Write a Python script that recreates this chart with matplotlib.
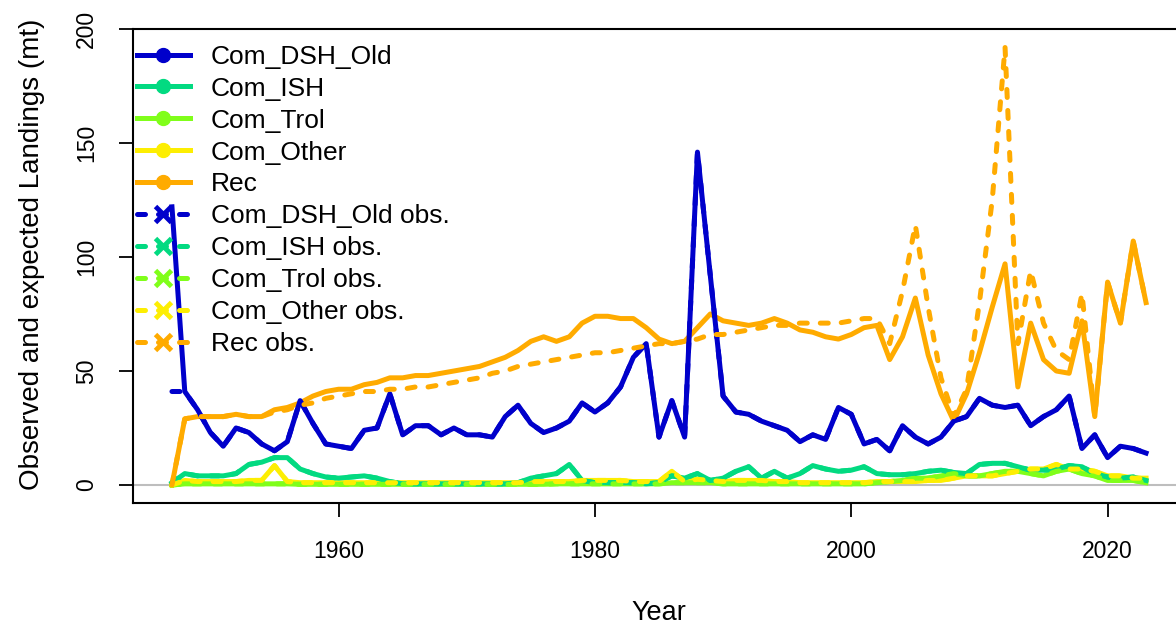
import numpy as np
import matplotlib.pyplot as plt
from matplotlib.lines import Line2D

plt.rcParams['font.family'] = ['Liberation Sans', 'DejaVu Sans']

years = np.arange(1947, 2024)

# expected landings (solid) by fleet
dsh_exp = [122, 41, 33, 23, 17, 25, 23, 18, 15, 19,
           37, 27, 18, 17, 16, 24, 25, 40, 22, 26,
           26, 22, 25, 22, 22, 21, 30, 35, 27, 23,
           25, 28, 36, 32, 36, 43, 56, 62, 21, 37,
           21, 146, 92, 39, 32, 31, 28, 26, 24, 19,
           22, 20, 34, 31, 18, 20, 15, 26, 21, 18,
           21, 28, 30, 38, 35, 34, 35, 26, 30, 33,
           39, 16, 22, 12, 17, 16, 14]
ish_exp = [1, 5, 4, 4, 4, 5, 9, 10, 12, 12,
           7, 5, 3.5, 3, 3.5, 4, 3, 1.5, 0.5, 0.5,
           0.5, 0.5, 0.5, 0.5, 0.5, 0.5, 0.5, 1, 3, 4,
           5, 9, 2, 1, 1, 1, 1, 0.5, 1, 4,
           3, 5, 2, 3, 6, 8, 3, 6, 3, 5,
           8.5, 7, 6, 6.5, 8, 5, 4.5, 4.5, 5, 6,
           6.5, 5.5, 5, 9, 9.5, 9.5, 8, 6.5, 6.5, 7,
           8.5, 8, 5, 3.5, 3, 3.5, 2]
trol_exp = [0, 0.5, 0.5, 0.5, 0.5, 0.5, 0.5, 0.5, 0.5, 0.5,
            0.3, 0.3, 0.3, 0.3, 0.3, 0.3, 0.3, 0.3, 0.3, 0.3,
            0.3, 0.3, 0.3, 0.3, 0.3, 0.3, 0.3, 0.3, 0.3, 0.3,
            0.5, 0.5, 0.5, 0.5, 0.5, 0.5, 0.5, 0.5, 0.5, 1,
            1, 1, 1, 0.5, 0.5, 0.5, 0.5, 0.5, 0.5, 0.5,
            0.5, 0.5, 0.5, 0.5, 0.5, 1, 1.5, 2, 3, 3,
            4, 5, 4, 4, 5, 6, 6, 5, 4, 6,
            7, 5, 4, 2, 2, 2, 1]
other_exp = [0, 2, 1.5, 1.5, 1.5, 1.5, 2, 2, 8.5, 1.5,
             1, 1, 1, 1, 1, 1, 1, 1, 1, 1,
             1, 1, 1, 1, 1, 1, 1, 1, 1.5, 1.5,
             1.5, 1.5, 2, 2, 2, 2, 1.5, 1.5, 1.5, 6,
             1.5, 2.5, 2, 1.5, 2, 2, 2, 1.5, 1.5, 1,
             1, 1, 1, 1, 1, 1.5, 1.5, 1.5, 1.5, 2,
             2, 3, 4, 4, 4, 5, 6, 7, 7, 9,
             7, 7, 6, 4, 4, 3, 3]
rec_exp = [0, 29, 30, 30, 30, 31, 30, 30, 33, 34,
           36, 39, 41, 42, 42, 44, 45, 47, 47, 48,
           48, 49, 50, 51, 52, 54, 56, 59, 63, 65,
           63, 65, 71, 74, 74, 73, 73, 69, 64, 62,
           63, 69, 75, 72, 71, 70, 71, 73, 71, 68,
           67, 65, 64, 66, 69, 70, 55, 65, 82, 57,
           40, 28, 40, 58, 78, 97, 43, 71, 55, 50,
           49, 72, 30, 89, 71, 107, 80]

# observed landings (dashed)
dsh_obs = [41, 41, 33, 23, 17, 25, 23, 18, 15, 19,
           37, 27, 18, 17, 16, 24, 25, 40, 22, 26,
           26, 22, 25, 22, 22, 21, 30, 35, 27, 23,
           25, 28, 36, 32, 36, 43, 56, 62, 21, 37,
           21, 146, 92, 39, 32, 31, 28, 26, 24, 19,
           22, 20, 34, 31, 18, 20, 15, 26, 21, 18,
           21, 28, 30, 38, 35, 34, 35, 26, 30, 33,
           39, 16, 22, 12, 17, 16, 14]
ish_obs = ish_exp
trol_obs = trol_exp
other_obs = other_exp
rec_obs = [0, 29, 30, 30, 30, 31, 30, 30, 32, 33,
           35, 36, 38, 39, 40, 41, 41, 42, 42, 43,
           43, 44, 45, 46, 47, 49, 50, 52, 53, 54,
           55, 56, 57, 58, 58, 59, 60, 61, 62, 62,
           63, 64, 66, 66, 67, 68, 69, 70, 70, 71,
           71, 71, 71, 72, 73, 73, 62, 85, 114, 78,
           47, 30, 42, 80, 125, 192, 62, 94, 71, 59,
           55, 84, 30, 89, 71, 107, 80]

fleets = ["Com_DSH_Old", "Com_ISH", "Com_Trol", "Com_Other", "Rec"]
colors = ["#0000CB", "#02DA81", "#80FE1A", "#FDEE02", "#FFAB00"]
expected = [dsh_exp, ish_exp, trol_exp, other_exp, rec_exp]
observed = [dsh_obs, ish_obs, trol_obs, other_obs, rec_obs]

fig = plt.figure(figsize=(11.76, 6.28), dpi=100)
ax = fig.add_axes([133 / 1176, 1 - 503 / 628, (1185 - 133) / 1176, 474 / 628])

ax.axhline(0, color="#BEBEBE", lw=1.5, zorder=1)
lw = 3.6
for i in reversed(range(5)):
    ax.plot(years, expected[i], color=colors[i], lw=lw, solid_joinstyle='round', zorder=2)
for i in range(5):
    ax.plot(years, observed[i], color=colors[i], lw=lw, dashes=(1.6, 2.6),
            dash_capstyle='round', zorder=3)

ax.set_xlim(1943.96, 2026.04)
ax.set_ylim(-7.9, 200)
ax.set_xticks([1960, 1980, 2000, 2020])
ax.set_yticks([0, 50, 100, 150, 200])
ax.tick_params(axis='both', labelsize=16.5, length=10, width=1.3, color='black')
ax.tick_params(axis='x', pad=17)
ax.tick_params(axis='y', pad=15)
for lab in ax.get_yticklabels():
    lab.set_rotation(90)
    lab.set_va('center')
for s in ax.spines.values():
    s.set_linewidth(1.5)

ax.set_xlabel("Year", fontsize=19.5, labelpad=26)
ax.set_ylabel("Observed and expected Landings (mt)", fontsize=20)
ax.yaxis.set_label_coords(-0.084, 0.525)

handles = []
for i in range(5):
    handles.append(Line2D([], [], color=colors[i], lw=lw, marker='o', markersize=10))
for i in range(5):
    handles.append(Line2D([], [], color=colors[i], lw=lw, dashes=(1.6, 2.6),
                          dash_capstyle='round', marker='x', markersize=11, markeredgewidth=3.5))
labels = fleets + [f + " obs." for f in fleets]
ax.legend(handles, labels, loc='upper left', bbox_to_anchor=(0, 0.975), frameon=False,
          fontsize=19, handlelength=2.0, handletextpad=0.8, labelspacing=0.3,
          borderaxespad=0, borderpad=0.15)

fig.savefig("out.png", dpi=100)
